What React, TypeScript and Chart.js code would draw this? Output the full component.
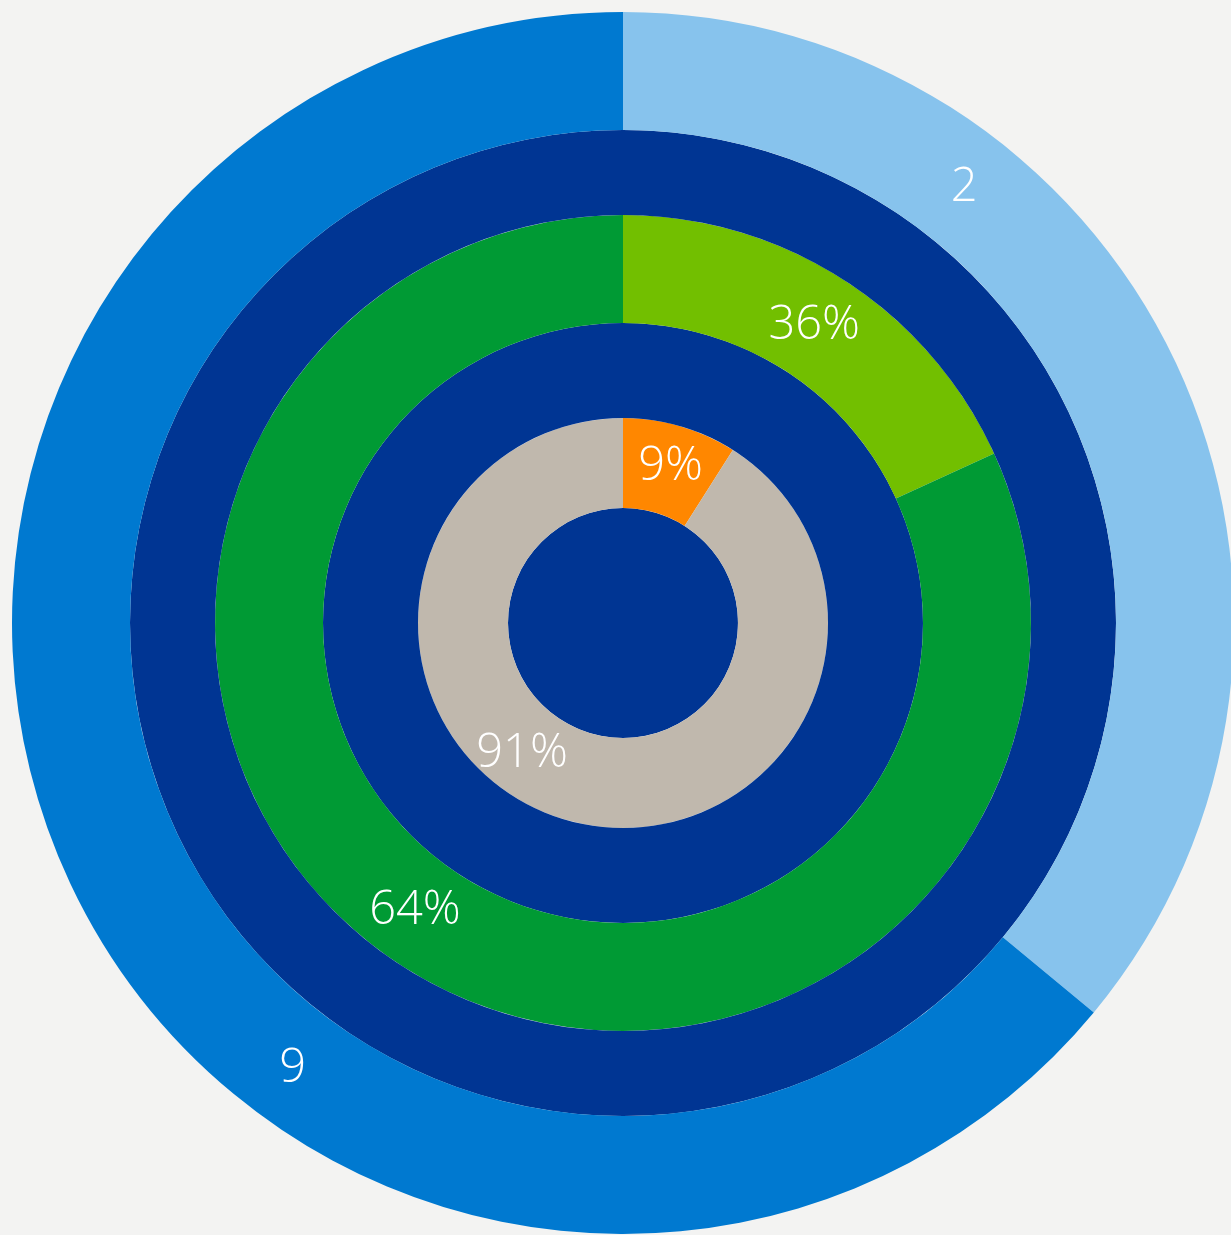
import React, { useEffect, useRef } from "react";
import { Chart, registerables } from "chart.js";

Chart.register(...registerables);

// Outer ring (visual shares) and its printed labels
const outerValues = [36, 64];
const outerLabels = ["2", "9"];
// Green ring
const greenValues = [2, 9];
const greenLabels = ["36%", "64%"];
// Inner ring
const innerValues = [9, 91];
const innerLabels = ["9%", "91%"];

const DARK = "#003593";

const labelPlugin = {
  id: "ringLabels",
  afterDatasetsDraw(chart: any, _args: any, opts: any) {
    const ctx = chart.ctx;
    const cfg: any[] = opts.items || [];
    ctx.save();
    ctx.fillStyle = "#ffffff";
    ctx.font = "normal 300 47px 'Open Sans'";
    ctx.textAlign = "center";
    ctx.textBaseline = "middle";
    cfg.forEach((c) => {
      const meta = chart.getDatasetMeta(c.dataset);
      const ds = chart.data.datasets[c.dataset] as any;
      meta.data.forEach((arc: any, j: number) => {
        const text = ds.ringLabels?.[j];
        if (!text) return;
        const props = arc.getProps(["x", "y", "innerRadius", "outerRadius", "startAngle", "endAngle"], true);
        const r = (props.innerRadius + props.outerRadius) / 2 + (c.dr || 0);
        const a = c.angles && c.angles[j] != null
          ? (c.angles[j] - 90) * Math.PI / 180
          : (props.startAngle + props.endAngle) / 2;
        ctx.fillText(text, props.x + Math.cos(a) * r, props.y + Math.sin(a) * r + 1);
      });
    });
    ctx.restore();
  },
};

export default function App() {
  const ref = useRef<HTMLCanvasElement | null>(null);
  useEffect(() => {
    if (!ref.current) return;
    const chart = new Chart(ref.current, {
      type: "doughnut",
      data: {
        labels: ["a", "b"],
        datasets: [
          { data: outerValues, backgroundColor: ["#87c3ed", "#0079d0"], weight: 118, ringLabels: outerLabels } as any,
          { data: [1], backgroundColor: [DARK], weight: 85 } as any,
          { data: greenValues, backgroundColor: ["#72bf00", "#009a34"], weight: 108, ringLabels: greenLabels } as any,
          { data: [1], backgroundColor: [DARK], weight: 95 } as any,
          { data: innerValues, backgroundColor: ["#ff8700", "#c0b8ad"], weight: 90, ringLabels: innerLabels } as any,
          { data: [1], backgroundColor: [DARK], weight: 115 } as any,
        ],
      },
      options: {
        responsive: false,
        animation: false,
        devicePixelRatio: 1,
        radius: 611,
        cutout: 0,
        borderWidth: 0,
        events: [],
        plugins: {
          legend: { display: false },
          tooltip: { enabled: false },
          ringLabels: {
            items: [
              { dataset: 0, angles: [38, 216.6], dr: 2 },
              { dataset: 2, angles: [32.7, 216] },
              { dataset: 4, angles: [16.9, 218], dr: 4 },
            ],
          },
        } as any,
      } as any,
      plugins: [labelPlugin],
    });
    return () => chart.destroy();
  }, []);
  return (
    <div
      style={{
        position: "fixed",
        left: 0,
        top: 0,
        width: 1231,
        height: 1235,
        overflow: "hidden",
        background: "#f3f3f2",
      }}
    >
      <canvas ref={ref} width={1246} height={1246} style={{ position: "absolute", left: 0, top: 0, width: 1246, height: 1246 }} />
    </div>
  );
}
